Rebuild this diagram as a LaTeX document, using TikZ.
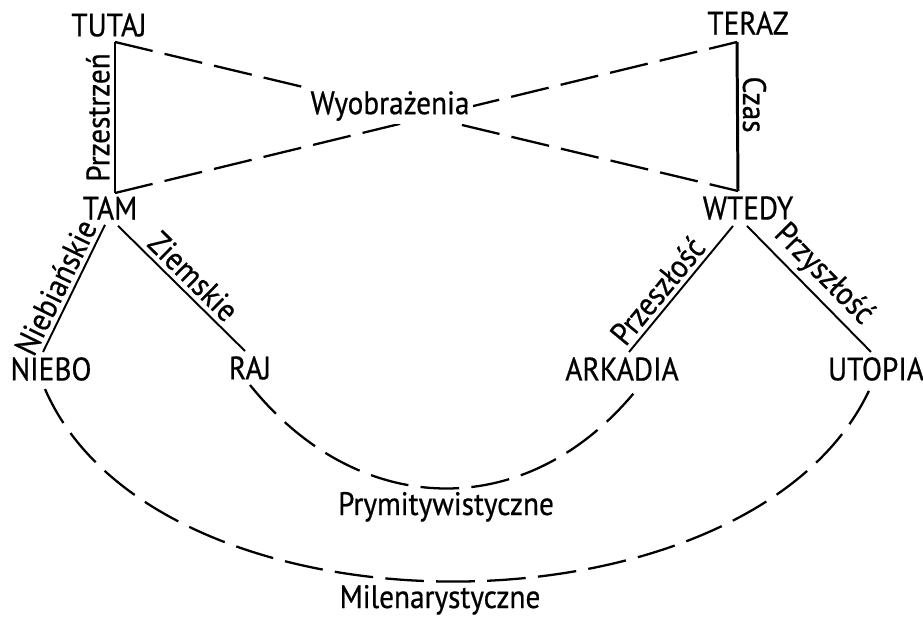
\documentclass[tikz,border=0pt]{standalone}
\usepackage{fontspec}
\setmainfont{PT Sans}[FakeStretch=0.9, FakeBold=0.6]
\usetikzlibrary{calc}

\begin{document}
\begin{tikzpicture}[x=0.02cm, y=-0.02cm, font=\fontsize{18.5}{22}\selectfont,
	word/.style={inner sep=0pt, outer sep=3pt},
	frame/.style={line width=1.7pt},
	branch/.style={line width=1.1pt},
	link/.style={line width=1.3pt, dash pattern=on 22pt off 7pt}]
	\useasboundingbox (0,0) rectangle (923,616);
	% the four corners: space on the left, time on the right
	\node[word] (tutaj) at (109,25) {TUTAJ};
	\node[word] (tam) at (110,208) {TAM};
	\node[word] (teraz) at (748,23) {TERAZ};
	\node[word] (wtedy) at (748,208) {WTEDY};
	\coordinate (tutajC) at (115,42);
	\coordinate (tamC) at (115,193);
	\coordinate (terazC) at (737,42);
	\coordinate (wtedyC) at (738,191);
	\draw[frame] (tamC) -- node[word, rotate=90, anchor=south] {Przestrzeń} (tutajC);
	\draw[frame] (terazC) -- node[word, rotate=-90, anchor=south, pos=0.42] {Czas} (wtedyC);
	% the crossing, covered by its label
	\draw[link] (tutajC) -- (wtedyC);
	\draw[link] (tamC) -- (terazC);
	\node[word, inner sep=2pt, fill=white] (wyobr) at (390,106) {Wyobrażenia};
	% the four places below
	\node[word] (niebo) at (51,369) {NIEBO};
	\node[word] (raj) at (250,368) {RAJ};
	\node[word] (arkadia) at (622,369) {ARKADIA};
	\node[word] (utopia) at (876,369) {UTOPIA};
	\draw[branch] ([shift={(-5,0)}]tam.south) --
	node[word, sloped, above, pos=0.55] {Niebiańskie} ([shift={(-8,0)}]niebo.north);
	\draw[branch] ([shift={(8,1)}]tam.south) --
	node[word, sloped, above] {Ziemskie} ([shift={(-5,0)}]raj.north);
	\draw[branch] ([shift={(-15,1)}]wtedy.south) --
	node[word, sloped, above, pos=0.6] {Przeszłość} ([shift={(7,0)}]arkadia.north);
	\draw[branch] ([shift={(-1,1)}]wtedy.south) --
	node[word, sloped, above] {Przyszłość} ([shift={(-5,0)}]utopia.north);
	% the two arcs and their names
	\draw[link] (raj.south) .. controls +(109,136) and +(-109,136) ..
	([shift={(16,2)}]arkadia.south);
	\draw[link] ([shift={(-6,3)}]niebo.south) .. controls +(113,260) and +(-113,260) ..
	([shift={(-4,-2)}]utopia.south);
	\node[word, anchor=base] (prymit) at (446,515) {Prymitywistyczne};
	\node[word, anchor=base] (milen) at (440,608) {Milenarystyczne};
\end{tikzpicture}
\end{document}
